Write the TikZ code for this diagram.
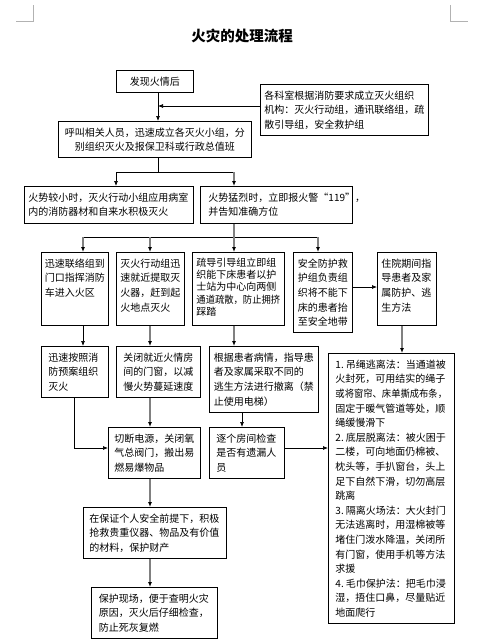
\documentclass[tikz,border=0pt]{standalone}
\usepackage{fontspec}
\setmainfont{Noto Sans CJK SC}
\usetikzlibrary{arrows.meta}

\newcommand{\narrowline}[1]{\scalebox{0.93}[1]{#1}}

\begin{document}
\begin{tikzpicture}[x=1pt, y=-1pt,
    blk/.style n args={3}{draw, line width=0.9pt, anchor=north west, align=left,
                 inner xsep=#3, inner ysep=3.8pt, text width=#1-2*#3,
                 text height=11pt, text depth=#2-18.6pt,
                 font=\fontsize{10}{14.6}\selectfont},
    link/.style={-{Latex[length=5pt, width=4pt, color=black]}, line width=0.7pt},
    glink/.style={link, line width=1.4pt, black!50},
    rail/.style={line width=0.7pt},
    corner/.style={black!30, line width=0.8pt}
  ]

  \useasboundingbox (0,0) rectangle (483,642);

  % page corner marks
  \draw[corner] (16,21) -- (33,21) -- (33,5);
  \draw[corner] (450,5) -- (450,21) -- (468,21);

  \node[font=\fontsize{14.5}{16}\selectfont\bfseries] (title) at (242,36) {火灾的处理流程};

  \node[blk={77pt}{22pt}{4pt}, align=center] (find) at (116,70) {发现火情后};
  \node[blk={168pt}{51pt}{4pt}] (org) at (260,84) {各科室根据消防要求成立灭火组织\\机构：灭火行动组，通讯联络组，疏\\散引导组，安全救护组};
  \node[blk={193pt}{36pt}{6pt}, align=center] (call) at (58,121) {呼叫相关人员，迅速成立各灭火小组，分\\别组织灭火及报保卫科或行政总值班};
  \node[blk={169pt}{37pt}{4pt}] (small) at (24,186) {火势较小时，灭火行动小组应用病室\\内的消防器材和自来水积极灭火};
  \node[blk={152pt}{37pt}{8pt}] (big) at (200,186) {火势猛烈时，立即报火警“119”，\\并告知准确方位};

  \node[blk={67pt}{73pt}{3.5pt}] (liaison) at (41,252) {迅速联络组到\\门口指挥消防\\车进入火区};
  \node[blk={68pt}{73pt}{4pt}] (fight) at (116,252) {灭火行动组迅\\速就近提取灭\\火器，赶到起\\火地点灭火};
  \node[blk={92pt}{73pt}{4pt}, font=\fontsize{10}{12.3}\selectfont, text height=10pt, text depth=73pt-17.6pt] (guide) at (192,252) {疏导引导组立即组\\织能下床患者以护\\士站为中心向两侧\\\narrowline{通道疏散，防止拥挤}\\踩踏};
  \node[blk={59pt}{80pt}{4.5pt}] (rescue) at (293,252) {安全防护救\\护组负责组\\织将不能下\\床的患者抬\\至安全地带};
  \node[blk={59pt}{73pt}{4pt}] (teach) at (377,252) {住院期间指\\导患者及家\\属防护、逃\\生方法};

  \node[blk={67pt}{51pt}{7pt}] (plan) at (41,346) {迅速按照消\\防预案组织\\灭火};
  \node[blk={84pt}{51pt}{7pt}] (doors) at (116,346) {关闭就近火情房\\间的门窗，以减\\慢火势蔓延速度};
  \node[blk={109pt}{66pt}{4.5pt}] (evac) at (209,346) {根据患者病情，指导患\\者及家属采取不同的\\逃生方法进行撤离（禁\\止使用电梯）};
  \node[blk={126pt}{270pt}{7pt}] (escape) at (328,353) {1.\kern2pt 吊绳逃离法：当通道被\\火封死，可用结实的绳子\\\narrowline{或将窗帘、床单撕成布条，}\\固定于暖气管道等处，顺\\绳缓慢滑下\\2.\kern2pt 底层脱离法：被火困于\\二楼，可向地面仍棉被、\\枕头等，手扒窗台，头上\\足下自然下滑，切勿高层\\跳离\\3.\kern2pt 隔离火场法：大火封门\\无法逃离时，用湿棉被等\\堵住门泼水降温，关闭所\\有门窗，使用手机等方法\\求援\\4.\kern2pt 毛巾保护法：把毛巾浸\\湿，捂住口鼻，尽量贴近\\地面爬行};

  \node[blk={92pt}{51pt}{6pt}] (cut) at (108,427) {切断电源，关闭氧\\气总阀门，搬出易\\燃易爆物品};
  \node[blk={75pt}{51pt}{7pt}] (search) at (209,427) {逐个房间检查\\是否有遗漏人\\员};
  \node[blk={143pt}{51pt}{6pt}] (save) at (83,507) {在保证个人安全前提下，积极\\抢救贵重仪器、物品及有价值\\的材料，保护财产};
  \node[blk={126pt}{51pt}{7.5pt}] (scene) at (91,587) {保护现场，便于查明火灾\\原因，灭火后仔细检查，\\防止死灰复燃};

  % junctions and connector columns
  \coordinate (trunk) at (158,106);
  \coordinate (fk1) at (158,172);
  \coordinate (fk2) at (234,237);
  \coordinate (yd) at (0,287);
  \coordinate (yk) at (0,448);
  \coordinate (xa) at (83,0);
  \coordinate (xb) at (150,0);
  \coordinate (xc) at (234,0);
  \coordinate (xd) at (318,0);
  \coordinate (xe) at (402,0);
  \coordinate (xf) at (74,0);
  \coordinate (xh) at (242,0);
  \coordinate (xs) at (116,0);

  \draw[link] (find.south -| trunk) -- (call.north -| trunk);
  \draw[link] (org.west |- trunk) -- (trunk);

  \draw[rail] (call.south -| fk1) -- (fk1);
  \draw[rail] (fk1 -| xs) -- (fk1 -| xc);
  \draw[link] (fk1 -| xs) -- (small.north -| xs);
  \draw[glink] (fk1 -| xc) -- (big.north -| xc);

  \draw[glink, -] (big.south -| xc) -- (fk2);
  \draw[rail] (fk2 -| xa) -- (fk2 -| xd);
  \draw[glink] (fk2 -| xa) -- (liaison.north -| xa);
  \draw[glink] (fk2 -| xb) -- (fight.north -| xb);
  \draw[glink] (fk2 -| xc) -- (guide.north -| xc);
  \draw[glink] (fk2 -| xd) -- (rescue.north -| xd);
  \draw[link] (rescue.east |- yd) -- (teach.west |- yd);

  \draw[link] (liaison.south -| xa) -- (plan.north -| xa);
  \draw[glink] (fight.south -| xb) -- (doors.north -| xb);
  \draw[glink] (guide.south -| xc) -- (evac.north -| xc);
  \draw[glink] (teach.south -| xe) -- (escape.north -| xe);

  \draw[glink] (doors.south -| xb) -- (cut.north -| xb);
  \draw[link] (plan.south -| xf) |- (cut.west |- yk);
  \draw[link] (evac.south -| xh) -- (search.north -| xh);
  \draw[link] (search.east |- yk) -- (escape.west |- yk);

  \draw[glink] (cut.south -| xb) -- (save.north -| xb);
  \draw[glink] (save.south -| xb) -- (scene.north -| xb);

\end{tikzpicture}
\end{document}
